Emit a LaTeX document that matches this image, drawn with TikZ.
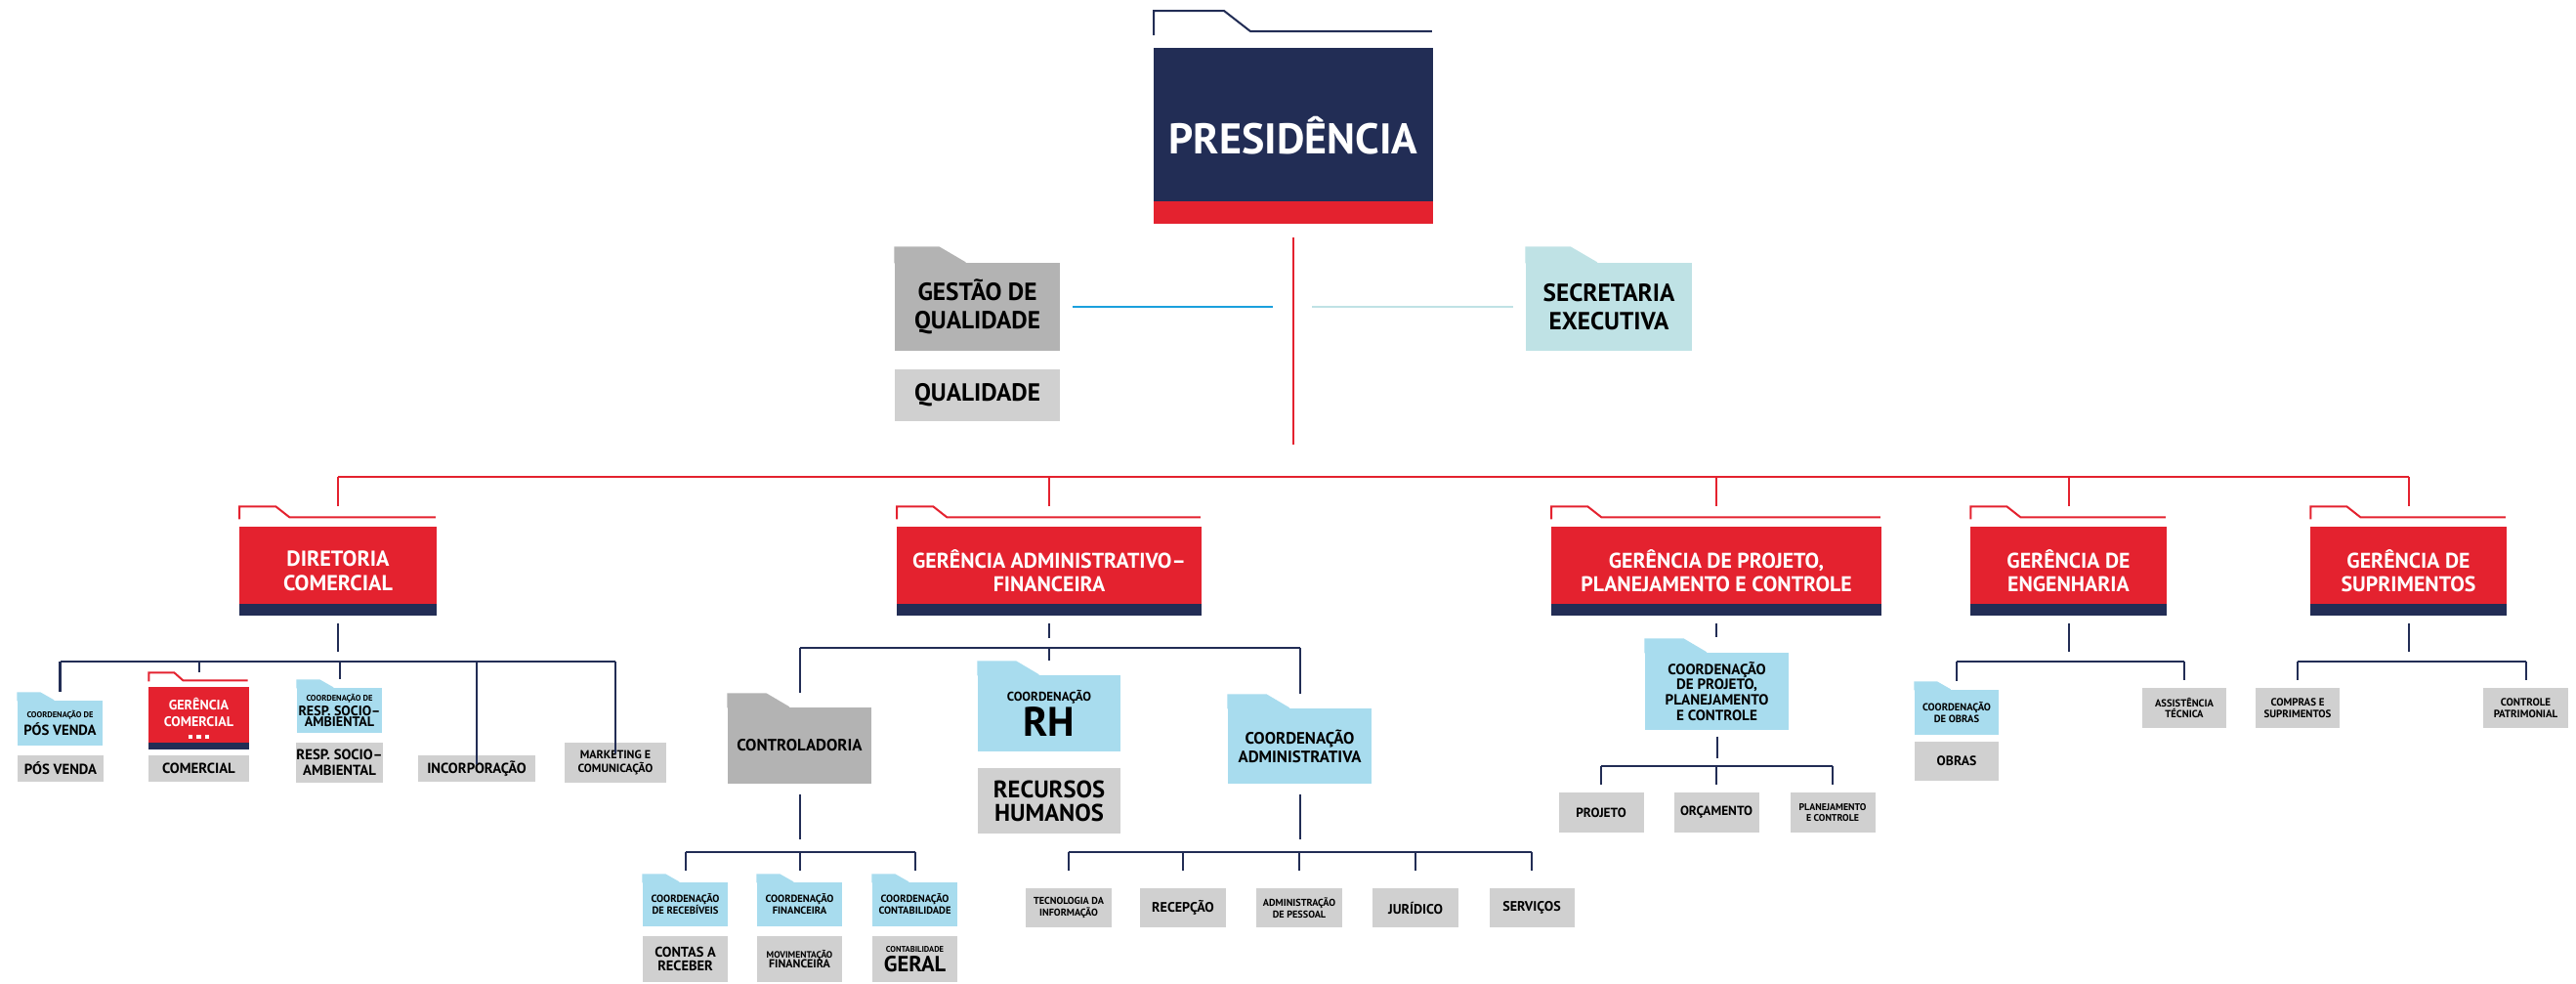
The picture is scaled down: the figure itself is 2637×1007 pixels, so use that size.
\documentclass[tikz,border=0pt]{standalone}
\usepackage{fontspec}
\setmainfont{PT Sans}
\usetikzlibrary{calc}

\definecolor{navyc}{HTML}{222D55}
\definecolor{redc}{HTML}{E4222F}
\definecolor{bluec}{HTML}{A8DCEE}
\definecolor{grayd}{HTML}{B3B3B3}
\definecolor{grayl}{HTML}{D0D0D0}
\definecolor{tealc}{HTML}{BFE2E5}
\definecolor{linec}{HTML}{1BA0DD}

\newcommand{\sz}[2]{\fontsize{#1}{#2}\selectfont}
\newcommand{\squares}{\rule{0.45mm}{0.4mm}\hspace{0.4mm}\rule{0.45mm}{0.4mm}\hspace{0.4mm}\rule{0.45mm}{0.4mm}}
% filled folder tab on top of a box
\newcommand{\ftab}[3]{\fill[#2] ($(#1.north west)+(0,1)$) -- ++(0,-#3-1) -- ($(#1.north west)!.27!(#1.north east)+(0,-#3)$) -- ($(#1.north west)!.43!(#1.north east)$) -- ++(0,1) -- cycle;}
% outlined folder tab above a box
\newcommand{\otab}[7]{\draw[#2, line width=0.57pt] ($(#1.north west)+(1,-#3)$) -- ++(0,-#4) -- ++(#5,0) -- ++(#6,#7) -- ($(#1.north east)+(-2,-#3-#4+#7)$);}

\begin{document}
\begin{tikzpicture}[x=0.01cm, y=-0.01cm]

\tikzset{base/.style={inner sep=0pt, align=center, font=\bfseries}}
\tikzset{fs/.style 2 args={font=\bfseries\sz{#1}{#2}}}
\tikzset{redbox/.style={base, fill=redc, text=white, path picture={\fill[navyc] (path picture bounding box.south west) rectangle ([yshift=#1]path picture bounding box.south east);}}, redbox/.default=1.2mm}
\tikzset{bluebox/.style={base, fill=bluec}}
\tikzset{graybox/.style={base, fill=grayl}}
\tikzset{darkbox/.style={base, fill=grayd}}
\tikzset{rline/.style={redc, line width=0.57pt}}
\tikzset{nline/.style={navyc, line width=0.57pt}}

\useasboundingbox (0,0) rectangle (2637,1007);

% presidency and staff
\node[base, fs={12.5}{14}, fill=navyc, text=white, minimum width=2.86cm, minimum height=1.8cm, path picture={\fill[redc] (path picture bounding box.south west) rectangle ([yshift=2.3mm]path picture bounding box.south east);}] (pres) at (1324,139) {PRESIDÊNCIA};
\otab{pres}{navyc}{12}{25}{72}{27}{21}

\node[darkbox, fs={7.2}{8.3}, minimum width=1.69cm, minimum height=0.9cm] (gq) at (1000.5,314) {GESTÃO DE\\QUALIDADE};
\node[graybox, fs={7.2}{8.3}, minimum width=1.69cm, minimum height=0.53cm] (qual) at (1000.5,404.5) {QUALIDADE};
\node[base, fs={7.2}{8.3}, fill=tealc, minimum width=1.7cm, minimum height=0.9cm] (sec) at (1647,314) {SECRETARIA\\EXECUTIVA};
\ftab{gq}{grayd}{16}
\ftab{sec}{tealc}{16}

\coordinate (rbar) at (0,488);
\draw[rline] ($(pres.south)+(0,13)$) -- ($(pres.south |- rbar)+(0,-33)$);
\draw[linec, line width=0.7pt] ($(gq.east)+(12,0)$) -- ($(pres.south |- gq.east)+(-21,0)$);
\draw[tealc, line width=0.7pt] ($(pres.south |- sec.west)+(19,0)$) -- ($(sec.west)+(-12,0)$);

% directors and managers
\node[redbox, fs={6.3}{7}, minimum width=2.02cm, minimum height=0.91cm] (dc) at (346,584.5) {DIRETORIA\\COMERCIAL};
\node[redbox, fs={6.2}{6.8}, minimum width=3.12cm, minimum height=0.91cm] (gaf) at (1074,584.5) {GERÊNCIA ADMINISTRATIVO–\\FINANCEIRA};
\node[redbox, fs={6.2}{6.8}, minimum width=3.38cm, minimum height=0.91cm] (gpp) at (1757,584.5) {GERÊNCIA DE PROJETO,\\PLANEJAMENTO E CONTROLE};
\node[redbox, fs={6.2}{6.8}, minimum width=2.01cm, minimum height=0.91cm] (ge) at (2117.5,584.5) {GERÊNCIA DE\\ENGENHARIA};
\node[redbox, fs={6.2}{6.8}, minimum width=2.01cm, minimum height=0.91cm] (gs) at (2465.5,584.5) {GERÊNCIA DE\\SUPRIMENTOS};
\foreach \n in {dc,gaf,gpp,ge,gs} {\otab{\n}{redc}{7}{13}{37}{14}{11}}

\draw[rline] (dc.north |- rbar) -- (gs.north |- rbar);
\foreach \n in {dc,gaf,gpp,ge,gs} \draw[rline] (\n.north |- rbar) -- ($(\n.north)+(0,-20)$);

% commercial
\node[bluebox, fs={2.4}{3}, minimum width=0.87cm, minimum height=0.46cm] (cpv) at (61.5,740) {COORDENAÇÃO DE\\\sz{4.2}{4.6}PÓS VENDA};
\node[graybox, fs={4.2}{4.6}, minimum width=0.87cm, minimum height=0.27cm] (pv) at (62,786.5) {PÓS VENDA};
\node[redbox=0.7mm, fs={4}{4.8}, minimum width=1.03cm, minimum height=0.64cm] (gc) at (203.5,735) {GERÊNCIA\\COMERCIAL\\[-1.4pt]\squares};
\otab{gc}{redc}{5}{9}{26}{9}{8}
\node[graybox, fs={4.2}{4.6}, minimum width=1.03cm, minimum height=0.27cm] (com) at (203.5,786.5) {COMERCIAL};
\node[bluebox, fs={2.4}{3}, minimum width=0.87cm, minimum height=0.46cm] (crs) at (347.5,727) {COORDENAÇÃO DE\\\sz{4}{4.4}RESP. SOCIO–\\\sz{4}{4.2}AMBIENTAL};
\node[graybox, fs={4.2}{4.4}, minimum width=0.87cm, minimum height=0.41cm] (rs) at (347.5,780.5) {RESP. SOCIO–\\AMBIENTAL};
\node[graybox, fs={4.2}{4.6}, minimum width=1.2cm, minimum height=0.27cm] (inc) at (488,786.5) {INCORPORAÇÃO};
\node[graybox, fs={3.4}{3.8}, minimum width=1.04cm, minimum height=0.41cm] (mkt) at (630,780.5) {MARKETING E\\COMUNICAÇÃO};
\ftab{cpv}{bluec}{8}
\ftab{crs}{bluec}{8}

\coordinate (dcbar) at (0,677);
\draw[nline] ($(dc.south)+(0,7)$) -- ($(dc.south |- dcbar)+(0,-10)$);
\draw[nline] (cpv.north |- dcbar) -- (mkt.north |- dcbar);
\foreach \c/\t in {cpv/-8,gc/-14,crs/-8,inc/10,mkt/12} \draw[nline] (\c.north |- dcbar) -- ($(\c.north)+(0,\t)$);

% administration and finance
\node[darkbox, fs={4.8}{5}, minimum width=1.47cm, minimum height=0.78cm] (ctrl) at (818.5,763) {CONTROLADORIA};
\node[bluebox, fs={3.7}{4}, minimum width=1.46cm, minimum height=0.78cm] (rh) at (1074,730) {COORDENAÇÃO\\\sz{12}{10.2}RH};
\node[graybox, fs={7}{6.8}, minimum width=1.46cm, minimum height=0.67cm] (rhum) at (1074,819.5) {RECURSOS\\HUMANOS};
\node[bluebox, fs={4.8}{5.4}, minimum width=1.47cm, minimum height=0.77cm] (cadm) at (1330.5,763.5) {COORDENAÇÃO\\ADMINISTRATIVA};
\ftab{ctrl}{grayd}{14}
\ftab{rh}{bluec}{14}
\ftab{cadm}{bluec}{14}

\coordinate (gafbar) at (0,663);
\draw[nline] ($(gaf.south)+(0,7)$) -- ($(gaf.south |- gafbar)+(0,-10)$);
\draw[nline] (ctrl.north |- gafbar) -- (cadm.north |- gafbar);
\foreach \c in {ctrl,rh,cadm} \draw[nline] (\c.north |- gafbar) -- ($(\c.north)+(0,-14)$);

\node[bluebox, fs={3}{3.4}, minimum width=0.87cm, minimum height=0.45cm] (crec) at (701.5,925.5) {COORDENAÇÃO\\DE RECEBÍVEIS};
\node[bluebox, fs={3}{3.4}, minimum width=0.87cm, minimum height=0.45cm] (cfin) at (818.5,925.5) {COORDENAÇÃO\\FINANCEIRA};
\node[bluebox, fs={3}{3.4}, minimum width=0.87cm, minimum height=0.45cm] (ccont) at (936.5,925.5) {COORDENAÇÃO\\CONTABILIDADE};
\node[graybox, fs={4.1}{3.8}, minimum width=0.87cm, minimum height=0.47cm] (crecg) at (701.5,981.5) {CONTAS A\\RECEBER};
\node[graybox, fs={2.7}{3}, minimum width=0.87cm, minimum height=0.47cm] (movf) at (818.5,981.5) {MOVIMENTAÇÃO\\\sz{3.4}{4}FINANCEIRA};
\node[graybox, fs={2.4}{2.8}, minimum width=0.87cm, minimum height=0.47cm] (contg) at (936.5,981.5) {CONTABILIDADE\\\sz{6.4}{5.7}GERAL};
\foreach \c in {crec,cfin,ccont} {\ftab{\c}{bluec}{8}}

\coordinate (ctrlbar) at (0,872);
\draw[nline] ($(ctrl.south)+(0,10)$) -- ($(ctrl.south |- ctrlbar)+(0,-13)$);
\draw[nline] (crec.north |- ctrlbar) -- (ccont.north |- ctrlbar);
\foreach \c in {crec,cfin,ccont} \draw[nline] (\c.north |- ctrlbar) -- ($(\c.north)+(0,-11)$);

\node[graybox, fs={2.9}{3.4}, minimum width=0.87cm, minimum height=0.4cm] (ti) at (1094,929) {TECNOLOGIA DA\\INFORMAÇÃO};
\node[graybox, fs={4}{4.4}, minimum width=0.87cm, minimum height=0.4cm] (rec) at (1211,929) {RECEPÇÃO};
\node[graybox, fs={2.9}{3.4}, minimum width=0.87cm, minimum height=0.4cm] (adp) at (1330,929) {ADMINISTRAÇÃO\\DE PESSOAL};
\node[graybox, fs={4}{4.4}, minimum width=0.87cm, minimum height=0.4cm] (jur) at (1449,929) {JURÍDICO};
\node[graybox, fs={4}{4.4}, minimum width=0.87cm, minimum height=0.4cm] (ser) at (1568,929) {SERVIÇOS};

\coordinate (cadmbar) at (0,872);
\draw[nline] ($(cadm.south)+(0,10)$) -- ($(cadm.south |- cadmbar)+(0,-13)$);
\draw[nline] (ti.north |- cadmbar) -- (ser.north |- cadmbar);
\foreach \c in {ti,rec,adp,jur,ser} \draw[nline] (\c.north |- cadmbar) -- ($(\c.north)+(0,-17)$);

% project, planning and control
\node[bluebox, fs={4.3}{4.5}, minimum width=1.47cm, minimum height=0.79cm] (cppc) at (1757.5,707.5) {COORDENAÇÃO\\DE PROJETO,\\PLANEJAMENTO\\E CONTROLE};
\ftab{cppc}{bluec}{14}
\draw[nline] ($(gpp.south)+(0,7)$) -- ($(gpp.south |- cppc.north)+(0,-15)$);

\node[graybox, fs={3.8}{4.2}, minimum width=0.87cm, minimum height=0.41cm] (proj) at (1639,831.5) {PROJETO};
\node[graybox, fs={3.8}{4.2}, minimum width=0.87cm, minimum height=0.41cm] (orc) at (1757,831.5) {ORÇAMENTO};
\node[graybox, fs={2.8}{3.3}, minimum width=0.87cm, minimum height=0.41cm] (pec) at (1876,831.5) {PLANEJAMENTO\\E CONTROLE};

\coordinate (cppcbar) at (0,784);
\draw[nline] ($(cppc.south)+(0,6)$) -- ($(cppc.south |- cppcbar)+(0,-8)$);
\draw[nline] (proj.north |- cppcbar) -- (pec.north |- cppcbar);
\foreach \c in {proj,orc,pec} \draw[nline] (\c.north |- cppcbar) -- ($(\c.north)+(0,-7)$);

% engineering
\node[bluebox, fs={3}{3.4}, minimum width=0.86cm, minimum height=0.46cm] (cob) at (2003,729) {COORDENAÇÃO\\DE OBRAS};
\node[graybox, fs={3.9}{4.2}, minimum width=0.86cm, minimum height=0.4cm] (obr) at (2003,779) {OBRAS};
\node[graybox, fs={3}{3.4}, minimum width=0.86cm, minimum height=0.41cm] (ast) at (2236,724.5) {ASSISTÊNCIA\\TÉCNICA};
\ftab{cob}{bluec}{8}

\coordinate (gebar) at (0,677);
\draw[nline] ($(ge.south)+(0,7)$) -- ($(ge.south |- gebar)+(0,-10)$);
\draw[nline] (cob.north |- gebar) -- (ast.north |- gebar);
\foreach \c/\t in {cob/-8,ast/-7} \draw[nline] (\c.north |- gebar) -- ($(\c.north)+(0,\t)$);

% supplies
\node[graybox, fs={3.1}{3.5}, minimum width=0.86cm, minimum height=0.41cm] (cs) at (2352,724.5) {COMPRAS E\\SUPRIMENTOS};
\node[graybox, fs={3.1}{3.5}, minimum width=0.87cm, minimum height=0.41cm] (cp) at (2585.5,724.5) {CONTROLE\\PATRIMONIAL};

\coordinate (gsbar) at (0,677);
\draw[nline] ($(gs.south)+(0,7)$) -- ($(gs.south |- gsbar)+(0,-10)$);
\draw[nline] (cs.north |- gsbar) -- (cp.north |- gsbar);
\foreach \c in {cs,cp} \draw[nline] (\c.north |- gsbar) -- ($(\c.north)+(0,-7)$);

\end{tikzpicture}
\end{document}
